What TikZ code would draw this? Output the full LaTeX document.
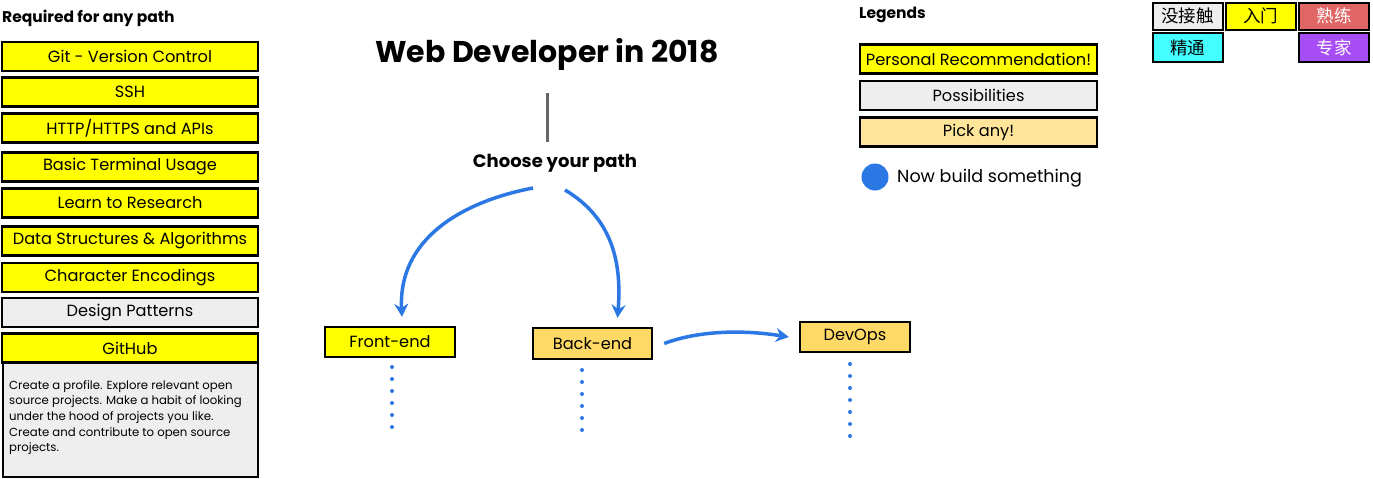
\documentclass[tikz,border=0pt]{standalone}
\usepackage{fontspec}
\setmainfont{Poppins}
\newfontfamily\cjk{Noto Sans CJK SC}
\usetikzlibrary{arrows.meta}
\definecolor{ylw}{HTML}{FFFF00}
\definecolor{gry}{HTML}{EEEEEE}
\definecolor{org}{HTML}{FFD966}
\definecolor{pick}{HTML}{FFE599}
\definecolor{blu}{HTML}{2B78E4}
\definecolor{cyn}{HTML}{44FFFF}
\definecolor{rd}{HTML}{E06666}
\definecolor{prp}{HTML}{A64DF5}
\definecolor{ln}{HTML}{666666}
\begin{document}
\begin{tikzpicture}[x=1pt,y=-1pt,
  box/.style={draw=black, line width=2.4pt, inner sep=0pt, font=\fontsize{16.2}{18}\selectfont, text=black},
  lbox/.style={box, minimum width=256pt, minimum height=29pt},
  gbox/.style={box, minimum width=237pt, minimum height=29pt},
  chip/.style={box, line width=2pt, minimum width=70pt, minimum height=27pt, font=\cjk\fontsize{17.5}{18}\selectfont},
  hdr/.style={font=\bfseries\fontsize{15.5}{17}\selectfont, inner sep=0pt},
  arr/.style={draw=blu, line width=3.5pt, -{Stealth[length=13pt,width=14pt]}},
  dots/.style={draw=blu, line width=4pt, line cap=round, dash pattern=on 0pt off 12pt}]
\useasboundingbox (0,0) rectangle (1373,479);
\fill[white] (0,0) rectangle (1373,479);

% left column
\node[hdr, anchor=west] (req) at (2,18) {Required for any path};
\node[lbox, fill=ylw] (git) at (130,56.5) {Git - Version Control};
\node[lbox, fill=ylw] (ssh) at (130,92) {SSH};
\node[lbox, fill=ylw] (http) at (130,128) {HTTP/HTTPS and APIs};
\node[lbox, fill=ylw] (term) at (130,167) {Basic Terminal Usage};
\node[lbox, fill=ylw] (res) at (130,203) {Learn to Research};
\node[lbox, fill=ylw] (dsa) at (130,241) {Data Structures \& Algorithms};
\node[lbox, fill=ylw] (enc) at (130,277.5) {Character Encodings};
\node[lbox, fill=gry] (dp) at (130,312.5) {Design Patterns};
\node[box, fill=gry, minimum width=255pt, minimum height=114pt] (desc) at (130.5,420) {};
\node[lbox, fill=ylw] (gh) at (130,348) {GitHub};
\node[anchor=north west, inner sep=0pt, align=left, font=\fontsize{11.7}{15.7}\selectfont] (desctext) at (9,380)
 {Create a profile. Explore relevant open\\source projects. Make a habit of looking\\under the hood of projects you like.\\Create and contribute to open source\\projects.};

% center
\node[font=\bfseries\fontsize{30}{34}\selectfont, inner sep=0pt] (title) at (547,54) {Web Developer in 2018};
\node[font=\bfseries\fontsize{18}{20}\selectfont, inner sep=0pt] (choose) at (555,163) {Choose your path};
\coordinate (v1) at (547,93);
\coordinate (v2) at (547,142);
\draw[ln, line width=3pt] (v1) -- (v2);

\node[box, fill=ylw, minimum width=130pt, minimum height=30pt] (fe) at (390,342) {Front-end};
\node[box, fill=org, minimum width=119pt, minimum height=31pt] (be) at (592.5,343.5) {Back-end};
\node[box, fill=org, minimum width=110pt, minimum height=30pt] (do) at (855,337) {DevOps};

\coordinate (cl) at (533,188);
\coordinate (cr) at (565,190);
\draw[arr] (cl) .. controls (460,202) and (398,240) .. ([xshift=12pt,yshift=9pt]fe.north);
\draw[arr] (cr) .. controls (612,218) and (622,262) .. ([xshift=25pt,yshift=9pt]be.north);
\draw[arr] ([xshift=11pt]be.east) .. controls (700,330) and (745,330) .. ([xshift=-10pt]do.west);

\coordinate (fe1) at (392,367);
\coordinate (fe2) at (392,428);
\coordinate (be1) at (582,370);
\coordinate (be2) at (582,432);
\coordinate (do1) at (850,364);
\coordinate (do2) at (850,436);
\draw[dots] (fe1) -- (fe2);
\draw[dots] (be1) -- (be2);
\draw[dots] (do1) -- (do2);

% legend
\node[hdr, anchor=west] (leg) at (859,15) {Legends};
\node[gbox, fill=ylw] (l1) at (978.5,59) {Personal Recommendation!};
\node[gbox, fill=gry] (l2) at (978.5,95.5) {Possibilities};
\node[gbox, fill=pick] (l3) at (978.5,132) {Pick any!};
\node[circle, fill=blu, minimum size=27pt, inner sep=0pt] (dot) at (875,177) {};
\node[anchor=west, inner sep=0pt, font=\fontsize{17.5}{19}\selectfont] (build) at (897,178) {Now build something};

% chips
\node[chip, fill=gry] (c1) at (1187.5,16) {没接触};
\node[chip, fill=ylw] (c2) at (1260.5,16) {入门};
\node[chip, fill=rd, text=white] (c3) at (1334,16) {熟练};
\node[chip, fill=cyn, minimum height=29pt] (c4) at (1187.5,47.5) {精通};
\node[chip, fill=prp, text=white, minimum height=29pt] (c5) at (1334,47.5) {专家};
\end{tikzpicture}
\end{document}
